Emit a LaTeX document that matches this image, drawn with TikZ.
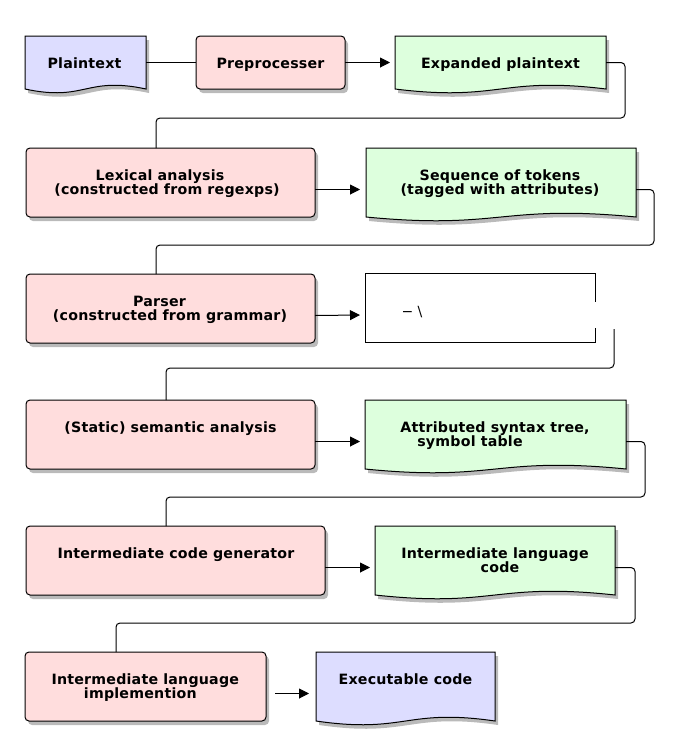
\documentclass[tikz,border=0pt]{standalone}
\usepackage{fontspec}
\setmainfont{DejaVu Sans}[BoldFeatures={LetterSpace=1.5}]
\usetikzlibrary{arrows.meta,shadows,calc}
\definecolor{procpink}{RGB}{255,221,221}
\definecolor{docgreen}{RGB}{221,255,221}
\definecolor{docblue}{RGB}{221,221,255}
\newcommand\docshape[2]{%
  \path[draw=black, line width=1pt, fill=#2, shadowed]
    (#1.north west) -- (#1.north east) -- (#1.south east)
    .. controls ($(#1.south)+(0,-13)$) and ($(#1.south)+(0,13)$) .. (#1.south west) -- cycle;}
\begin{document}
\begin{tikzpicture}[x=1pt,y=-1pt,
  shadowed/.style={drop shadow={shadow xshift=3pt, shadow yshift=-4pt, fill=black!60, opacity=.45}},
  area/.style={inner sep=0pt, outer sep=0pt, anchor=north west},
  procbox/.style={area, draw=black, line width=1pt, rounded corners=4pt, fill=procpink, shadowed},
  lbl/.style={anchor=base, inner sep=0pt, font=\fontsize{14.2}{14}\selectfont\bfseries},
  conn/.style={draw=black, line width=1pt, rounded corners=4pt},
  arr/.style={draw=black, line width=1pt, -{Triangle[length=10pt,width=10pt]}},
]
\useasboundingbox (0,0) rectangle (680,756);

% row 1
\node[area, minimum width=121pt, minimum height=53pt] (pt) at (25,36) {};
\docshape{pt}{docblue}
\node[procbox, minimum width=149pt, minimum height=53pt] (pre) at (196,36) {};
\node[area, minimum width=211pt, minimum height=53pt] (exp) at (395,36) {};
\docshape{exp}{docgreen}
\node[lbl] (ptT) at (84.5,68) {Plaintext};
\node[lbl] (preT) at (270.5,68) {Preprocesser};
\node[lbl] (expT) at (500.5,68) {Expanded plaintext};

% row 2
\node[procbox, minimum width=289pt, minimum height=69pt] (lex) at (26,148) {};
\node[area, minimum width=270pt, minimum height=69pt] (seq) at (366,148) {};
\docshape{seq}{docgreen}
\node[lbl] (lexA) at (160,180) {Lexical analysis};
\node[lbl] (lexB) at (167,194) {(constructed from regexps)};
\node[lbl] (seqA) at (500,180.5) {Sequence of tokens};
\node[lbl] (seqB) at (500,194.5) {(tagged with attributes)};

% row 3
\node[procbox, minimum width=289pt, minimum height=69pt] (par) at (26,274) {};
\node[area, minimum width=230pt, minimum height=69pt] (mid) at (365,273.5) {};
\draw[line width=1pt] ([yshift=-28pt]mid.north east) -- (mid.north east) -- (mid.north west)
  -- (mid.south west) -- (mid.south east) -- ([yshift=15pt]mid.south east);
\node[lbl] (parA) at (159.5,306) {Parser};
\node[lbl] (parB) at (170,320) {(constructed from grammar)};
\node[anchor=base, inner sep=0pt, font=\fontsize{14}{14}\selectfont] (midT) at (412,316) {− \textbackslash};

% row 4
\node[procbox, minimum width=289pt, minimum height=69pt] (stat) at (26,400) {};
\node[area, minimum width=261pt, minimum height=69pt] (att) at (365,400) {};
\docshape{att}{docgreen}
\node[lbl] (statT) at (170.5,432) {(Static) semantic analysis};
\node[lbl] (attA) at (495,432) {Attributed syntax tree,};
\node[lbl] (attB) at (470,446) {symbol table};

% row 5
\node[procbox, minimum width=299pt, minimum height=69pt] (icg) at (26,526) {};
\node[area, minimum width=240pt, minimum height=69pt] (ilc) at (375,526) {};
\docshape{ilc}{docgreen}
\node[lbl] (icgT) at (176,558) {Intermediate code generator};
\node[lbl] (ilcA) at (495,558.5) {Intermediate language};
\node[lbl] (ilcB) at (500,572.5) {code};

% row 6
\node[procbox, minimum width=241pt, minimum height=69pt] (impl) at (25,652) {};
\node[area, minimum width=179pt, minimum height=69pt] (exec) at (316,652) {};
\docshape{exec}{docblue}
\node[lbl] (implA) at (145.3,684) {Intermediate language};
\node[lbl] (implB) at (140.3,698) {implemention};
\node[lbl] (execT) at (405.5,684) {Executable code};

% connectors
\coordinate (r1) at (625,118);
\coordinate (r2) at (654,245);
\coordinate (c3) at (614,329);
\coordinate (r3) at (166,368);
\coordinate (r4) at (645,497);
\coordinate (r5) at (635,623);

\draw[conn] (pt.east) -- (pre.west);
\draw[arr] (pre.east) -- ([xshift=-5pt]exp.west);
\draw[conn] (exp.east) -| (r1) -| ([xshift=-14.5pt]lex.north);

\draw[arr] ([yshift=-7pt]lex.east) -- ([xshift=-6pt,yshift=-7pt]seq.west);
\draw[conn] ([yshift=-7pt]seq.east) -| (r2) -| ([xshift=-14.5pt]par.north);

\draw[arr] ([yshift=-7pt]par.east) -- ([xshift=-5pt,yshift=-7pt]mid.west);
\draw[conn] (c3) |- (r3) -- ([xshift=-4.5pt]stat.north);

\draw[arr] ([yshift=-7pt]stat.east) -- ([xshift=-5pt,yshift=-7pt]att.west);
\draw[conn] ([yshift=-7pt]att.east) -| (r4) -| ([xshift=-9.5pt]icg.north);

\draw[arr] ([yshift=-7pt]icg.east) -- ([xshift=-5pt,yshift=-7pt]ilc.west);
\draw[conn] ([yshift=-7pt]ilc.east) -| (r5) -| ([xshift=-29.5pt]impl.north);

\draw[arr] ([xshift=9pt,yshift=-7pt]impl.east) -- ([xshift=-7pt,yshift=-7pt]exec.west);
\end{tikzpicture}
\end{document}
